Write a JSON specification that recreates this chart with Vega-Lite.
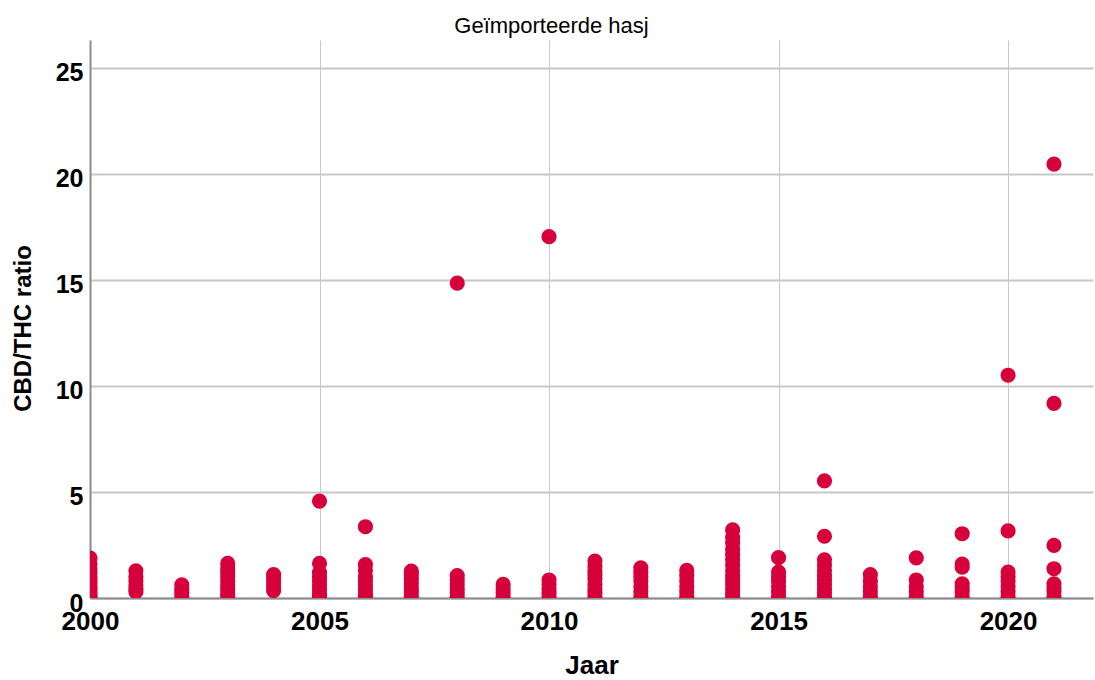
{
  "$schema": "https://vega.github.io/schema/vega-lite/v6.json",
  "autosize": "none",
  "width": 1003,
  "height": 558,
  "padding": {"left": 90, "top": 40, "right": 2, "bottom": 82},
  "background": "white",
  "config": {"view": {"stroke": null}},
  "title": {"text": "Geïmporteerde hasj", "font": "Liberation Sans", "fontSize": 22, "fontWeight": "normal", "color": "#000", "anchor": "middle", "offset": 2, "dx": -40},
  "data": {"values": [
    {"Jaar": 2000, "ratio": 0.0}, {"Jaar": 2000, "ratio": 0.1}, {"Jaar": 2000, "ratio": 0.25}, {"Jaar": 2000, "ratio": 0.4}, {"Jaar": 2000, "ratio": 0.55}, {"Jaar": 2000, "ratio": 0.7}, {"Jaar": 2000, "ratio": 0.85}, {"Jaar": 2000, "ratio": 1.0}, {"Jaar": 2000, "ratio": 1.2}, {"Jaar": 2000, "ratio": 1.4}, {"Jaar": 2000, "ratio": 1.6}, {"Jaar": 2000, "ratio": 1.88},
    {"Jaar": 2001, "ratio": 0.3}, {"Jaar": 2001, "ratio": 0.45}, {"Jaar": 2001, "ratio": 0.6}, {"Jaar": 2001, "ratio": 0.8}, {"Jaar": 2001, "ratio": 1.0}, {"Jaar": 2001, "ratio": 1.28},
    {"Jaar": 2002, "ratio": 0.05}, {"Jaar": 2002, "ratio": 0.25}, {"Jaar": 2002, "ratio": 0.4}, {"Jaar": 2002, "ratio": 0.62},
    {"Jaar": 2003, "ratio": 0.05}, {"Jaar": 2003, "ratio": 0.2}, {"Jaar": 2003, "ratio": 0.4}, {"Jaar": 2003, "ratio": 0.6}, {"Jaar": 2003, "ratio": 0.8}, {"Jaar": 2003, "ratio": 1.0}, {"Jaar": 2003, "ratio": 1.2}, {"Jaar": 2003, "ratio": 1.4}, {"Jaar": 2003, "ratio": 1.63},
    {"Jaar": 2004, "ratio": 0.35}, {"Jaar": 2004, "ratio": 0.55}, {"Jaar": 2004, "ratio": 0.75}, {"Jaar": 2004, "ratio": 0.95}, {"Jaar": 2004, "ratio": 1.1},
    {"Jaar": 2005, "ratio": 0.05}, {"Jaar": 2005, "ratio": 0.2}, {"Jaar": 2005, "ratio": 0.4}, {"Jaar": 2005, "ratio": 0.6}, {"Jaar": 2005, "ratio": 0.8}, {"Jaar": 2005, "ratio": 1.0}, {"Jaar": 2005, "ratio": 1.2}, {"Jaar": 2005, "ratio": 1.63}, {"Jaar": 2005, "ratio": 4.57},
    {"Jaar": 2006, "ratio": 0.05}, {"Jaar": 2006, "ratio": 0.2}, {"Jaar": 2006, "ratio": 0.4}, {"Jaar": 2006, "ratio": 0.6}, {"Jaar": 2006, "ratio": 0.8}, {"Jaar": 2006, "ratio": 1.0}, {"Jaar": 2006, "ratio": 1.3}, {"Jaar": 2006, "ratio": 1.57}, {"Jaar": 2006, "ratio": 3.36},
    {"Jaar": 2007, "ratio": 0.1}, {"Jaar": 2007, "ratio": 0.3}, {"Jaar": 2007, "ratio": 0.5}, {"Jaar": 2007, "ratio": 0.7}, {"Jaar": 2007, "ratio": 0.9}, {"Jaar": 2007, "ratio": 1.1}, {"Jaar": 2007, "ratio": 1.27},
    {"Jaar": 2008, "ratio": 0.05}, {"Jaar": 2008, "ratio": 0.25}, {"Jaar": 2008, "ratio": 0.45}, {"Jaar": 2008, "ratio": 0.65}, {"Jaar": 2008, "ratio": 0.85}, {"Jaar": 2008, "ratio": 1.06}, {"Jaar": 2008, "ratio": 14.84},
    {"Jaar": 2009, "ratio": 0.05}, {"Jaar": 2009, "ratio": 0.25}, {"Jaar": 2009, "ratio": 0.45}, {"Jaar": 2009, "ratio": 0.64},
    {"Jaar": 2010, "ratio": 0.05}, {"Jaar": 2010, "ratio": 0.25}, {"Jaar": 2010, "ratio": 0.45}, {"Jaar": 2010, "ratio": 0.65}, {"Jaar": 2010, "ratio": 0.85}, {"Jaar": 2010, "ratio": 17.03},
    {"Jaar": 2011, "ratio": 0.05}, {"Jaar": 2011, "ratio": 0.25}, {"Jaar": 2011, "ratio": 0.45}, {"Jaar": 2011, "ratio": 0.65}, {"Jaar": 2011, "ratio": 0.9}, {"Jaar": 2011, "ratio": 1.1}, {"Jaar": 2011, "ratio": 1.3}, {"Jaar": 2011, "ratio": 1.5}, {"Jaar": 2011, "ratio": 1.74},
    {"Jaar": 2012, "ratio": 0.05}, {"Jaar": 2012, "ratio": 0.3}, {"Jaar": 2012, "ratio": 0.55}, {"Jaar": 2012, "ratio": 0.8}, {"Jaar": 2012, "ratio": 1.0}, {"Jaar": 2012, "ratio": 1.2}, {"Jaar": 2012, "ratio": 1.42},
    {"Jaar": 2013, "ratio": 0.05}, {"Jaar": 2013, "ratio": 0.3}, {"Jaar": 2013, "ratio": 0.55}, {"Jaar": 2013, "ratio": 0.8}, {"Jaar": 2013, "ratio": 1.05}, {"Jaar": 2013, "ratio": 1.3},
    {"Jaar": 2014, "ratio": 0.05}, {"Jaar": 2014, "ratio": 0.25}, {"Jaar": 2014, "ratio": 0.45}, {"Jaar": 2014, "ratio": 0.65}, {"Jaar": 2014, "ratio": 0.85}, {"Jaar": 2014, "ratio": 1.05}, {"Jaar": 2014, "ratio": 1.3}, {"Jaar": 2014, "ratio": 1.55}, {"Jaar": 2014, "ratio": 1.8}, {"Jaar": 2014, "ratio": 2.05}, {"Jaar": 2014, "ratio": 2.3}, {"Jaar": 2014, "ratio": 2.6}, {"Jaar": 2014, "ratio": 2.85}, {"Jaar": 2014, "ratio": 3.21},
    {"Jaar": 2015, "ratio": 0.05}, {"Jaar": 2015, "ratio": 0.3}, {"Jaar": 2015, "ratio": 0.55}, {"Jaar": 2015, "ratio": 0.8}, {"Jaar": 2015, "ratio": 1.0}, {"Jaar": 2015, "ratio": 1.22}, {"Jaar": 2015, "ratio": 1.9},
    {"Jaar": 2016, "ratio": 0.05}, {"Jaar": 2016, "ratio": 0.25}, {"Jaar": 2016, "ratio": 0.45}, {"Jaar": 2016, "ratio": 0.65}, {"Jaar": 2016, "ratio": 0.85}, {"Jaar": 2016, "ratio": 1.05}, {"Jaar": 2016, "ratio": 1.3}, {"Jaar": 2016, "ratio": 1.55}, {"Jaar": 2016, "ratio": 1.8}, {"Jaar": 2016, "ratio": 2.91}, {"Jaar": 2016, "ratio": 5.52},
    {"Jaar": 2017, "ratio": 0.05}, {"Jaar": 2017, "ratio": 0.3}, {"Jaar": 2017, "ratio": 0.55}, {"Jaar": 2017, "ratio": 0.8}, {"Jaar": 2017, "ratio": 1.1},
    {"Jaar": 2018, "ratio": 0.05}, {"Jaar": 2018, "ratio": 0.3}, {"Jaar": 2018, "ratio": 0.55}, {"Jaar": 2018, "ratio": 0.85}, {"Jaar": 2018, "ratio": 1.89},
    {"Jaar": 2019, "ratio": 0.05}, {"Jaar": 2019, "ratio": 0.3}, {"Jaar": 2019, "ratio": 0.5}, {"Jaar": 2019, "ratio": 0.67}, {"Jaar": 2019, "ratio": 1.45}, {"Jaar": 2019, "ratio": 1.6}, {"Jaar": 2019, "ratio": 3.03},
    {"Jaar": 2020, "ratio": 0.05}, {"Jaar": 2020, "ratio": 0.3}, {"Jaar": 2020, "ratio": 0.55}, {"Jaar": 2020, "ratio": 0.8}, {"Jaar": 2020, "ratio": 1.0}, {"Jaar": 2020, "ratio": 1.22}, {"Jaar": 2020, "ratio": 3.16}, {"Jaar": 2020, "ratio": 10.5},
    {"Jaar": 2021, "ratio": 0.05}, {"Jaar": 2021, "ratio": 0.3}, {"Jaar": 2021, "ratio": 0.5}, {"Jaar": 2021, "ratio": 0.67}, {"Jaar": 2021, "ratio": 1.38}, {"Jaar": 2021, "ratio": 2.48}, {"Jaar": 2021, "ratio": 9.17}, {"Jaar": 2021, "ratio": 20.45}
  ]},
  "mark": {"type": "point", "filled": true, "shape": "circle", "size": 230, "opacity": 1, "color": "#d6003b", "clip": true},
  "encoding": {
    "x": {
      "field": "Jaar", "type": "quantitative",
      "scale": {"domain": [2000, 2021.85], "nice": false, "zero": false},
      "axis": {
        "title": "Jaar", "values": [2000, 2005, 2010, 2015, 2020], "format": "d",
        "grid": true, "gridColor": "#c8c8c8", "gridWidth": 1,
        "domainColor": "#8c8c8c", "domainWidth": 2, "ticks": false,
        "labelFont": "Liberation Sans", "labelFontWeight": "bold", "labelFontSize": 26, "labelColor": "#000", "labelPadding": 10, "labelFlush": false,
        "titleFont": "Liberation Sans", "titleFontWeight": "bold", "titleFontSize": 26, "titleColor": "#000", "titlePadding": 18
      }
    },
    "y": {
      "field": "ratio", "type": "quantitative",
      "scale": {"domain": [0, 26.3], "nice": false},
      "axis": {
        "title": "CBD/THC ratio", "values": [0, 5, 10, 15, 20, 25],
        "grid": true, "gridColor": "#c8c8c8", "gridWidth": 2,
        "domainColor": "#8c8c8c", "domainWidth": 2, "ticks": false,
        "labelFont": "Liberation Sans", "labelFontWeight": "bold", "labelFontSize": 25, "labelColor": "#000", "labelPadding": 7, "labelOffset": 5, "labelFlush": false,
        "titleFont": "Liberation Sans", "titleFontWeight": "bold", "titleFontSize": 24, "titleColor": "#000", "titlePadding": 20, "titleY": 288
      }
    }
  }
}
